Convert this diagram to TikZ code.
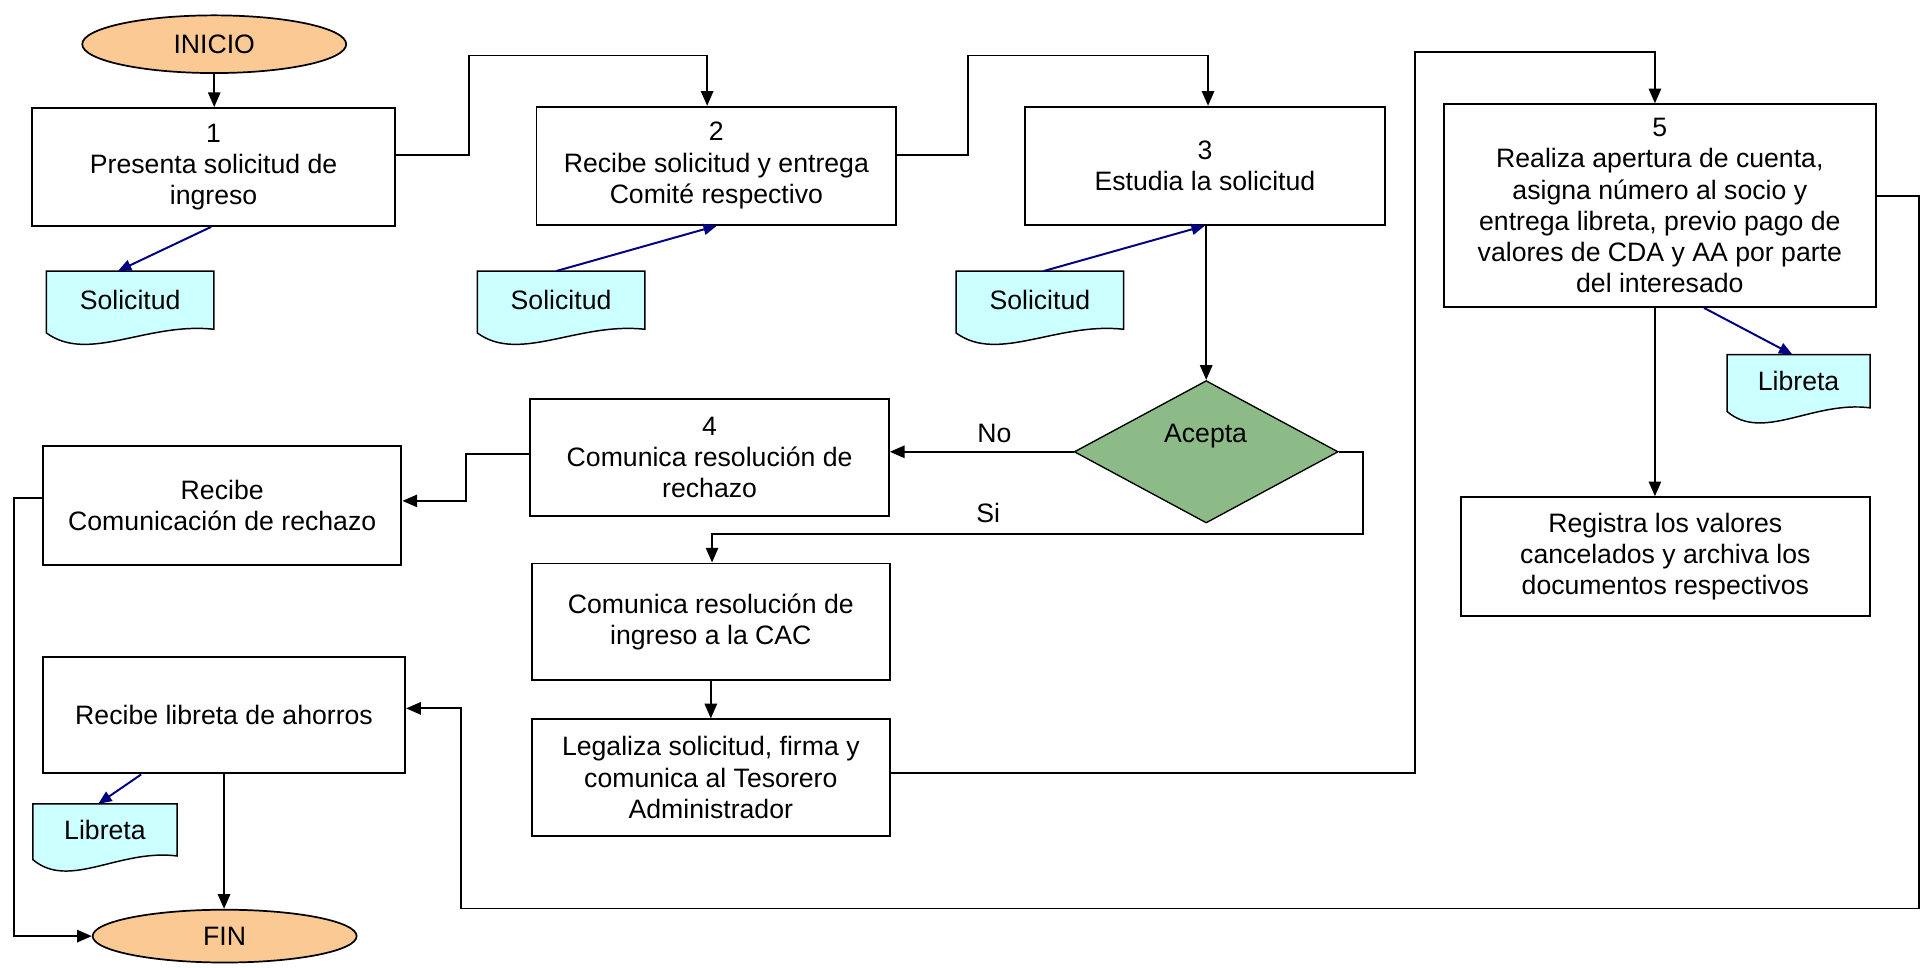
\documentclass[tikz,border=0pt]{standalone}
\usepackage{fontspec}
\setmainfont{Liberation Sans}
\usetikzlibrary{shapes.geometric,arrows.meta,calc}
\pgfdeclarelayer{background}
\pgfsetlayers{background,main}
\definecolor{peach}{HTML}{FBC993}
\definecolor{leaf}{HTML}{8DBB87}
\definecolor{paper}{HTML}{CCFFFF}
\definecolor{navyline}{HTML}{000080}

\begin{document}
\begin{tikzpicture}[x=1pt,y=-1pt,
  font=\fontsize{21.7}{25.5}\selectfont,
  every node/.style={align=center, inner sep=0pt},
  proc/.style={draw, line width=1.6pt, rectangle},
  term/.style={ellipse, draw, line width=1.4pt, fill=peach, minimum width=215pt, minimum height=47pt},
  decision/.style={diamond, draw, line width=1.1pt, fill=leaf, aspect=1.85, minimum width=215pt, minimum height=116pt},
  docbox/.style={minimum width=136pt, minimum height=47pt},
  flow/.style={line width=1.6pt, -{Triangle[length=12pt,width=10pt]}},
  doclink/.style={navyline, line width=1.6pt, -{Triangle[length=11pt,width=9pt]}}
]
\useasboundingbox (0,0) rectangle (1568,788);

% terminals
\node[term] (ini) at (174.5,36) {INICIO};
\node[term, minimum height=43pt] (fin) at (183,762.5) {FIN};

% process steps
\node[proc, minimum width=296pt, minimum height=96pt] (b1) at (174,136) {1\\Presenta solicitud de\\ingreso};
\node[proc, minimum width=293pt, minimum height=96pt] (b2) at (583.5,135) {2\\Recibe solicitud y entrega\\Comité respectivo};
\node[proc, minimum width=293pt, minimum height=96pt] (b3) at (981.5,135) {3\\Estudia la solicitud};
\node[proc, minimum width=352pt, minimum height=165pt] (b5) at (1352,167.5) {5\\Realiza apertura de cuenta,\\asigna número al socio y\\entrega libreta, previo pago de\\valores de CDA y AA por parte\\del interesado};
\node[proc, minimum width=333pt, minimum height=97pt] (reg) at (1356.5,453.5) {Registra los valores\\cancelados y archiva los\\documentos respectivos};
\node[proc, minimum width=292pt, minimum height=95pt] (b4) at (578,372.5) {4\\Comunica resolución de\\rechazo};
\node[proc, minimum width=292pt, minimum height=97pt] (rech) at (181,411.5) {Recibe\\Comunicación de rechazo};
\node[proc, minimum width=292pt, minimum height=95pt] (ing) at (579,506.5) {Comunica resolución de\\ingreso a la CAC};
\node[proc, minimum width=292pt, minimum height=95pt] (leg) at (579,633.5) {Legaliza solicitud, firma y\\comunica al Tesorero\\Administrador};
\node[proc, minimum width=295pt, minimum height=95pt] (lib) at (182.5,582.5) {Recibe libreta de ahorros};

% decision
\node[decision] (dia) at (982.5,368) {};
\node (diatext) at (982,355) {Acepta};
\node (nolbl) at (810,353) {No};
\node (silbl) at (805,418) {Si};

% documents
\node[docbox] (s1) at (106,244.5) {Solicitud};
\node[docbox] (s2) at (457,244.5) {Solicitud};
\node[docbox] (s3) at (847,244.5) {Solicitud};
\node[docbox, minimum width=116pt, minimum height=43pt] (lr) at (1465,310.5) {Libreta};
\node[docbox, minimum width=117pt, minimum height=42pt] (ll) at (85.5,676) {Libreta};

\begin{pgfonlayer}{background}
\foreach \d in {s1,s2,s3,lr,ll}{
  \draw[line width=1.2pt, fill=paper] (\d.south east) -- (\d.north east) -- (\d.north west)
    -- ($(\d.south west)+(0,3)$)
    .. controls ($(\d.south west)!0.25!(\d.south east)+(0,28)$) and ($(\d.south west)!0.6!(\d.south east)+(0,-6)$) .. (\d.south east) -- cycle;
}
\end{pgfonlayer}

% main flow
\draw[flow] (ini.south) -- (ini.south |- b1.north);
\draw[flow] ($(b1.east)+(0,-10)$) -- ++(59,0) |- ($(b2.north)+(-7.5,-41)$) -- ($(b2.north)+(-7.5,0)$);
\draw[flow] ($(b2.east)+(0,-9)$) -- ++(58,0) |- ($(b3.north)+(2.5,-41)$) -- ($(b3.north)+(2.5,0)$);
\draw[flow] (dia.north |- b3.south) -- (dia.north);
\draw[flow] (dia.west) -- (dia.west -| b4.east);
\draw[flow] (dia.east) -- ++(20,0) |- ($(ing.north)+(1,-23)$) -- ($(ing.north)+(1,0)$);
\draw[flow] ($(b4.west)+(0,-2.5)$) -- ++(-52,0) |- ($(rech.east)+(0,-3.5)$);
\draw[flow] ($(rech.west)+(0,-6)$) -- ++(-23,0) |- (fin.west);
\draw[flow] (ing.south) -- (leg.north);
\draw[flow] ($(leg.east)+(0,-3.5)$) -- ++(427,0) |- ($(b5.north)+(-4,-42)$) -- ($(b5.north)+(-4,0)$);
\draw[flow] ($(b5.east)+(0,-7.5)$) -- ++(34,0) |- ($(lib.east)+(45,157.5)$) |- ($(lib.east)+(0,-5.5)$);
\draw[flow] ($(b5.south)+(-4,0)$) -- ($(reg.north)+(-8.5,0)$);
\draw[flow] (lib.south) -- (lib.south |- fin.north);

% document links
\draw[doclink] ($(b1.south)+(-2,0)$) -- ($(s1.north)+(-10,0)$);
\draw[doclink] ($(s2.north)+(-4,0)$) -- ($(b2.south)+(0.5,0)$);
\draw[doclink] ($(s3.north)+(3,0)$) -- (b3.south);
\draw[doclink] ($(b5.south)+(36,0)$) -- ($(lr.north)+(-5,0)$);
\draw[doclink] ($(lib.south)+(-67.5,0)$) -- ($(ll.north)+(-5.5,0)$);
\end{tikzpicture}
\end{document}
